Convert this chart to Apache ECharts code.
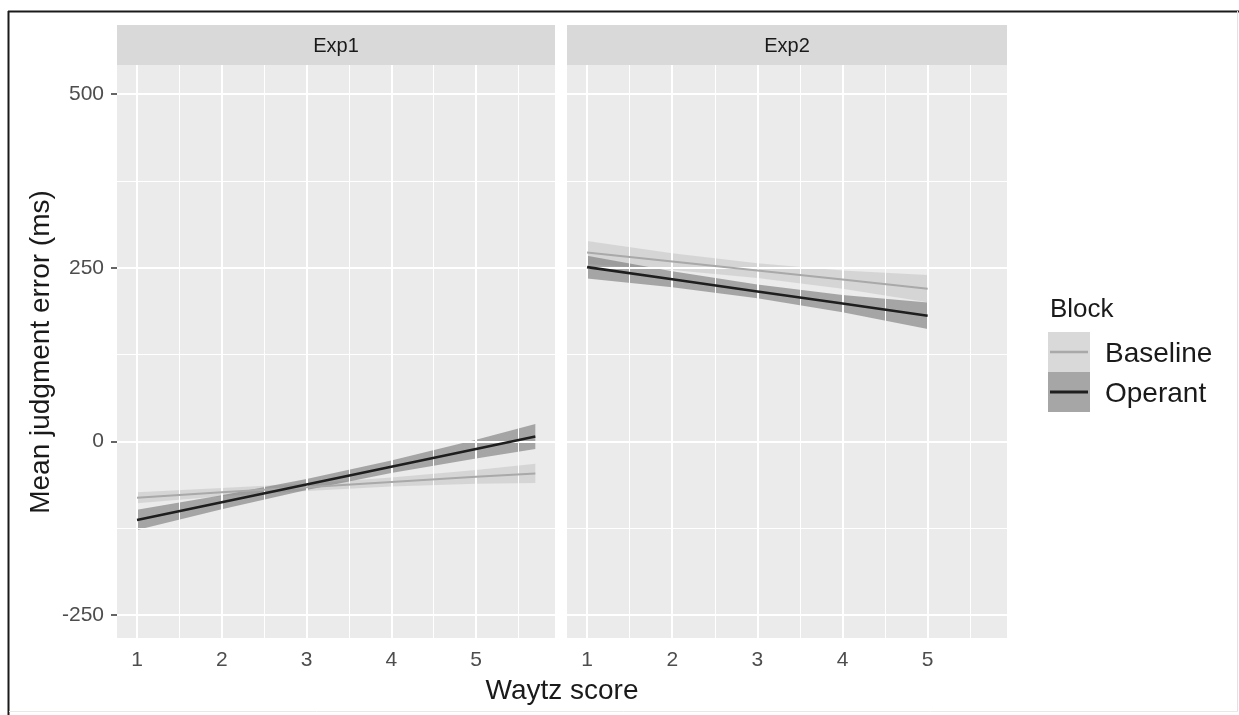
<!DOCTYPE html>
<html>
<head>
<meta charset="utf-8">
<script src="https://cdn.jsdelivr.net/npm/echarts@6/dist/echarts.min.js"></script>
<style>
html,body{margin:0;padding:0;background:#fff;}
#chart{width:1239px;height:715px;}
</style>
</head>
<body>
<div id="chart"></div>
<script>
// ---- data ----
const panelNames = ['Exp1', 'Exp2'];
const legendTitle = 'Block';
const blockNames = ['Baseline', 'Operant'];
const xTicks = [1, 2, 3, 4, 5];
const xMinor = [1.5, 2.5, 3.5, 4.5, 5.5];
const yTicks = [-250, 0, 250, 500];
const yMinor = [-125, 125, 375];

const exp1X = [1, 2, 3, 4, 5, 5.7];
const exp1BaselineFit   = [-81, -73, -66, -58.5, -51, -46];
const exp1BaselineLower = [-89, -79, -71.5, -65, -61, -60];
const exp1BaselineUpper = [-73, -67, -60.5, -52, -41, -32];
const exp1OperantFit    = [-113, -87.5, -62, -36.5, -11, 7];
const exp1OperantLower  = [-127.5, -97.5, -70, -45.5, -24.5, -11];
const exp1OperantUpper  = [-98.5, -77.5, -54, -27.5, 2.5, 25];

const exp2X = [1, 2, 3, 4, 5];
const exp2BaselineFit   = [272, 259, 246, 233, 220];
const exp2BaselineLower = [255.5, 247, 235.5, 220, 200.5];
const exp2BaselineUpper = [288.5, 271, 256.5, 246, 239.5];
const exp2OperantFit    = [251, 233.5, 216, 198.5, 181];
const exp2OperantLower  = [234.5, 222, 206, 186, 162];
const exp2OperantUpper  = [267.5, 245, 226, 211, 200];

// ---- layout / style ----
const FONT = '"Liberation Sans", Arial, sans-serif';
const X_MIN = 0.764, X_MAX = 5.932;
const Y_MIN = -283, Y_MAX = 542;
const grids = [
  {left: 117, top: 65, width: 438, height: 573},
  {left: 567, top: 65, width: 440, height: 573}
];
const bandColors = ['rgba(200,200,200,0.62)', 'rgba(118,118,118,0.6)'];
const lineColors = ['#a9a9a9', '#1e1e1e'];
const lineWidths = [2, 2.6];

const chart = echarts.init(document.getElementById('chart'), null, {renderer: 'canvas'});

function zip(xs, ys) { return xs.map((x, i) => [x, ys[i]]); }

function bandSeries(idx, xs, lo, hi, color, name) {
  return {
    type: 'custom', name: name, xAxisIndex: idx, yAxisIndex: idx, z: 3,
    silent: true, clip: true,
    data: [[xs[0], lo[0]]],
    renderItem: function (params, api) {
      const pts = [];
      for (let i = 0; i < xs.length; i++) pts.push(api.coord([xs[i], hi[i]]));
      for (let i = xs.length - 1; i >= 0; i--) pts.push(api.coord([xs[i], lo[i]]));
      return {type: 'polygon', shape: {points: pts}, style: {fill: color}};
    }
  };
}

function lineSeries(idx, xs, ys, k, name) {
  return {
    type: 'line', name: name, xAxisIndex: idx, yAxisIndex: idx, z: 5,
    data: zip(xs, ys), showSymbol: false, symbol: 'none', silent: true,
    lineStyle: {color: lineColors[k], width: lineWidths[k]}
  };
}

function gridLineSeries(idx) {
  const d = [];
  yTicks.forEach(v => d.push({yAxis: v, lineStyle: {width: 2}}));
  yMinor.forEach(v => d.push({yAxis: v, lineStyle: {width: 1}}));
  xTicks.forEach(v => d.push({xAxis: v, lineStyle: {width: 2}}));
  xMinor.forEach(v => d.push({xAxis: v, lineStyle: {width: 1}}));
  return {
    type: 'line', xAxisIndex: idx, yAxisIndex: idx, z: 1, silent: true,
    data: [[1, 0]], showSymbol: false, symbol: 'none', lineStyle: {opacity: 0},
    markLine: {
      silent: true, symbol: ['none', 'none'], label: {show: false},
      animation: false, emphasis: {disabled: true},
      lineStyle: {color: '#ffffff', type: 'solid'},
      data: d
    }
  };
}

const xAxes = grids.map((g, i) => ({
  type: 'value', gridIndex: i, min: X_MIN, max: X_MAX,
  axisLine: {show: false},
  splitLine: {show: false},
  axisTick: {show: true, customValues: xTicks, length: 6, lineStyle: {color: '#333', width: 1.5}},
  axisLabel: {show: true, customValues: xTicks, margin: 12, color: '#4d4d4d', fontSize: 21, fontFamily: FONT,
              formatter: v => String(v)}
}));
const yAxes = grids.map((g, i) => ({
  type: 'value', gridIndex: i, min: Y_MIN, max: Y_MAX,
  axisLine: {show: false},
  splitLine: {show: false},
  axisTick: {show: i === 0, customValues: yTicks, length: 6, lineStyle: {color: '#333', width: 1.5}},
  axisLabel: {show: i === 0, customValues: yTicks, margin: 13, color: '#4d4d4d', fontSize: 21, fontFamily: FONT,
              formatter: v => String(v)}
}));

const series = [
  gridLineSeries(0), gridLineSeries(1),
  bandSeries(0, exp1X, exp1BaselineLower, exp1BaselineUpper, bandColors[0], blockNames[0]),
  bandSeries(0, exp1X, exp1OperantLower, exp1OperantUpper, bandColors[1], blockNames[1]),
  bandSeries(1, exp2X, exp2BaselineLower, exp2BaselineUpper, bandColors[0], blockNames[0]),
  bandSeries(1, exp2X, exp2OperantLower, exp2OperantUpper, bandColors[1], blockNames[1]),
  lineSeries(0, exp1X, exp1BaselineFit, 0, blockNames[0]),
  lineSeries(0, exp1X, exp1OperantFit, 1, blockNames[1]),
  lineSeries(1, exp2X, exp2BaselineFit, 0, blockNames[0]),
  lineSeries(1, exp2X, exp2OperantFit, 1, blockNames[1])
];

const graphic = [];
// frame
graphic.push({type: 'line', silent: true, shape: {x1: 8, y1: 11.5, x2: 1239, y2: 11.5}, style: {stroke: '#1a1a1a', lineWidth: 2}});
graphic.push({type: 'line', silent: true, shape: {x1: 8.5, y1: 11, x2: 8.5, y2: 715}, style: {stroke: '#1a1a1a', lineWidth: 2}});
graphic.push({type: 'line', silent: true, shape: {x1: 1237.5, y1: 11, x2: 1237.5, y2: 711}, style: {stroke: '#e2e2e2', lineWidth: 1}});
graphic.push({type: 'line', silent: true, shape: {x1: 9, y1: 711.5, x2: 1238, y2: 711.5}, style: {stroke: '#e8e8e8', lineWidth: 1}});
// strips
grids.forEach((g, i) => {
  graphic.push({type: 'rect', silent: true, shape: {x: g.left, y: 25, width: g.width, height: 40}, style: {fill: '#d9d9d9'}});
  graphic.push({type: 'text', silent: true, x: g.left + g.width / 2, y: 46,
    style: {text: panelNames[i], fill: '#1a1a1a', font: '20px ' + FONT, textAlign: 'center', textVerticalAlign: 'middle'}});
});
// axis titles
graphic.push({type: 'text', silent: true, x: 562, y: 691,
  style: {text: 'Waytz score', fill: '#1a1a1a', font: '28px ' + FONT, textAlign: 'center', textVerticalAlign: 'middle'}});
graphic.push({type: 'text', silent: true, x: 41, y: 352, rotation: Math.PI / 2,
  style: {text: 'Mean judgment error (ms)', fill: '#1a1a1a', font: '28px ' + FONT, textAlign: 'center', textVerticalAlign: 'middle'}});
// legend
graphic.push({type: 'text', silent: true, x: 1050, y: 310,
  style: {text: legendTitle, fill: '#1a1a1a', font: '26px ' + FONT, textAlign: 'left', textVerticalAlign: 'middle'}});
const keyFills = ['#d9d9d9', '#a6a6a6'];
blockNames.forEach((nm, k) => {
  const y0 = 332 + k * 40;
  graphic.push({type: 'rect', silent: true, shape: {x: 1048, y: y0, width: 42, height: 40}, style: {fill: '#f2f2f2'}});
  graphic.push({type: 'rect', silent: true, shape: {x: 1048, y: y0, width: 42, height: 40}, style: {fill: keyFills[k]}});
  graphic.push({type: 'line', silent: true, shape: {x1: 1050, y1: y0 + 20, x2: 1088, y2: y0 + 20},
    style: {stroke: lineColors[k], lineWidth: lineWidths[k] + 0.4}});
  graphic.push({type: 'text', silent: true, x: 1105, y: y0 + 22,
    style: {text: nm, fill: '#1a1a1a', font: '28px ' + FONT, textAlign: 'left', textVerticalAlign: 'middle'}});
});

chart.setOption({
  animation: false,
  backgroundColor: '#ffffff',
  grid: grids.map(g => Object.assign({show: true, backgroundColor: '#ebebeb', borderWidth: 0, containLabel: false}, g)),
  xAxis: xAxes,
  yAxis: yAxes,
  series: series,
  graphic: graphic
});
</script>
</body>
</html>
